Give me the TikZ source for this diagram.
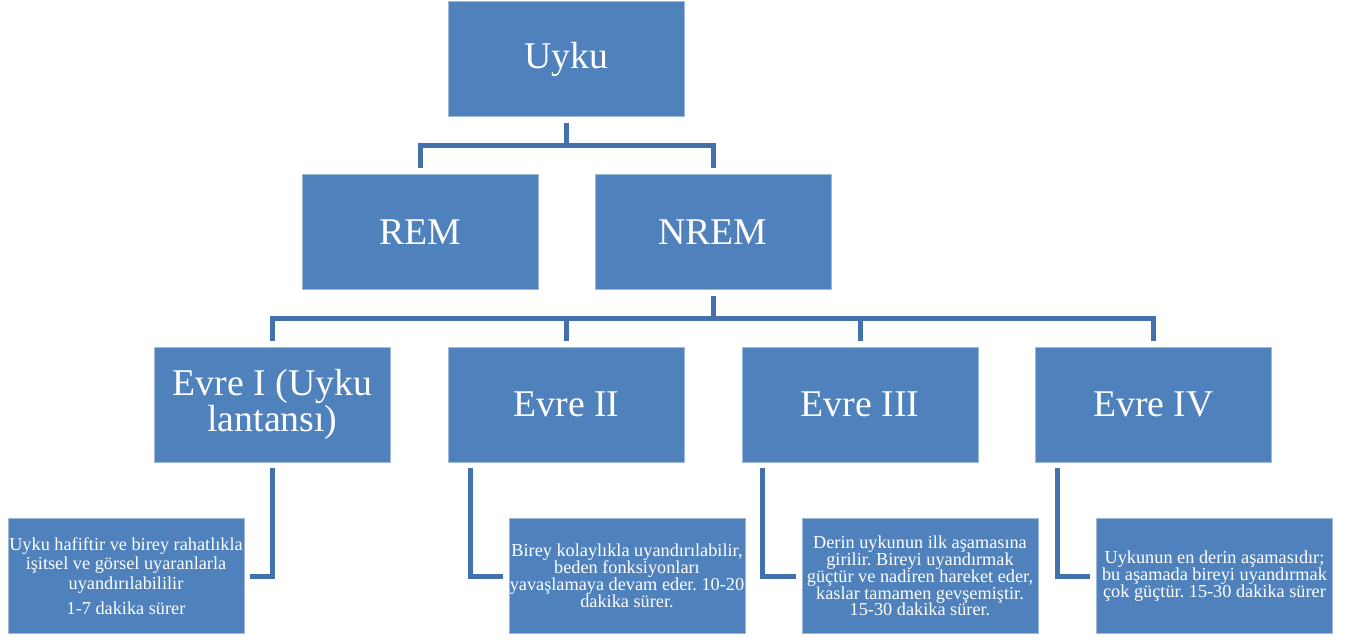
\documentclass[tikz,border=0pt]{standalone}
\usepackage{fontspec}
\setmainfont{Liberation Serif}
\usetikzlibrary{calc,positioning}
\definecolor{kutuMavi}{HTML}{4F81BD}
\definecolor{cizgiMavi}{HTML}{4271AB}

\begin{document}
\begin{tikzpicture}[
  kutu/.style={fill=kutuMavi,draw=kutuMavi!55!white,line width=0.4pt,text=white,
    minimum width=4.72cm,minimum height=2.30cm,inner sep=0pt,align=center,
    font=\fontsize{21.5}{20.5}\selectfont},
  altKutu/.style={kutu,font=\fontsize{10.4}{9.6}\selectfont\frenchspacing},
  baglanti/.style={draw=cizgiMavi,line width=1mm}
]
\useasboundingbox (0,0) rectangle (27.18,12.78);
% ust seviye
\node[kutu] (uyku) at (11.32,11.60) {Uyku};
\node[kutu] (rem) at (8.40,8.14) {REM};
\node[kutu] (nrem) at (14.26,8.14) {NREM};
% evreler
\node[kutu] (evreBir) at (5.45,4.69) {Evre I (Uyku\\lantansı)};
\node[kutu] (evreIki) at (11.33,4.69) {Evre II};
\node[kutu] (evreUc) at (17.20,4.69) {Evre III};
\node[kutu] (evreDort) at (23.07,4.69) {Evre IV};
% aciklamalar
\node[altKutu,font=\fontsize{10.4}{11.1}\selectfont\frenchspacing] (aciklamaBir) at (2.52,1.26)
  {Uyku hafiftir ve birey rahatlıkla\\işitsel ve görsel uyaranlarla\\uyandırılabililir\\[3.4pt]1-7 dakika sürer};
\node[altKutu] (aciklamaIki) at (12.54,1.26)
  {Birey kolaylıkla uyandırılabilir,\\beden fonksiyonları\\yavaşlamaya devam eder. 10-20\\dakika sürer.};
\node[altKutu] (aciklamaUc) at (18.40,1.26)
  {Derin uykunun ilk aşamasına\\girilir. Bireyi uyandırmak\\güçtür ve nadiren hareket eder,\\kaslar tamamen gevşemiştir.\\15-30 dakika sürer.};
\node[altKutu] (aciklamaDort) at (24.29,1.26)
  {Uykunun en derin aşamasıdır;\\bu aşamada bireyi uyandırmak\\çok güçtür. 15-30 dakika sürer};

% baglantilar
\coordinate (ustHat) at ([yshift=-0.58cm]uyku.south);
\coordinate (evreHatti) at ([yshift=-0.57cm]nrem.south);
\draw[baglanti] ([yshift=-1.2mm]uyku.south) -- (ustHat);
\draw[baglanti] ([yshift=1.2mm]rem.north) |- (ustHat) -| ([yshift=1.2mm]nrem.north);
\draw[baglanti] ([yshift=-1.2mm]nrem.south) -- (evreHatti);
\draw[baglanti] ([yshift=1.2mm]evreBir.north) |- (evreHatti) -| ([yshift=1.2mm]evreDort.north);
\draw[baglanti] ([yshift=1.2mm]evreIki.north) -- (evreIki.north |- evreHatti);
\draw[baglanti] ([yshift=1.2mm]evreUc.north) -- (evreUc.north |- evreHatti);
\draw[baglanti] ([yshift=-1.2mm]evreBir.south) |- ([xshift=1.2mm]aciklamaBir.east);
\draw[baglanti] ([shift={(0.44,-0.12)}]evreIki.south west) |- ([xshift=-1.2mm]aciklamaIki.west);
\draw[baglanti] ([shift={(0.42,-0.12)}]evreUc.south west) |- ([xshift=-1.2mm]aciklamaUc.west);
\draw[baglanti] ([shift={(0.45,-0.12)}]evreDort.south west) |- ([xshift=-1.2mm]aciklamaDort.west);
\end{tikzpicture}
\end{document}
